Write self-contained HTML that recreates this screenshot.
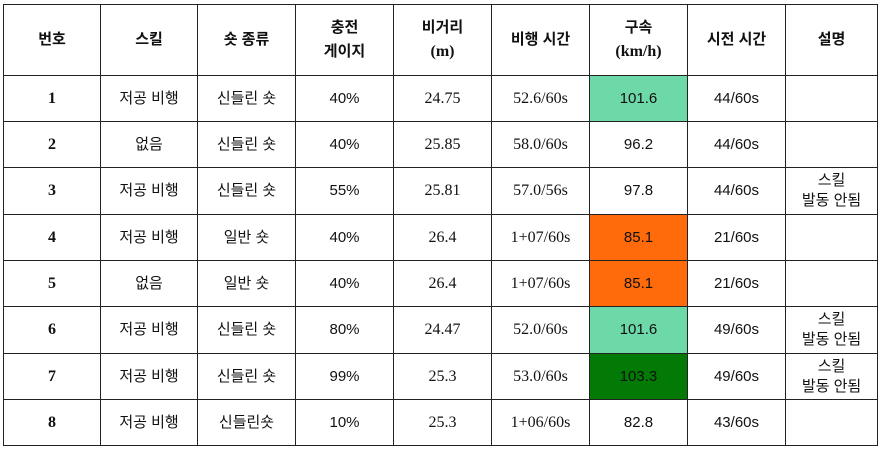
<!DOCTYPE html><html><head><meta charset="utf-8"><style>
body{margin:0;background:#fff;width:883px;height:452px;overflow:hidden}
table{position:absolute;left:3px;top:4px;border-collapse:collapse;table-layout:fixed;font-family:"Liberation Sans","Noto Sans CJK KR",sans-serif;font-size:15px;color:#111}
td{border:1px solid #222;text-align:center;vertical-align:middle;padding:0;line-height:20px;overflow:hidden}
tr.h td{font-weight:bold;height:70px;line-height:24px}
tr.r td{height:45px}
tr.t td{height:46px}
.s{font-family:"Liberation Serif","Noto Sans CJK KR",serif;font-size:16px}
.g{background:#6dd8a8}.o{background:#ff6a0a}.d{background:#037a05}
.n{font-weight:bold}
</style></head><body>
<table>
<colgroup><col style="width:97px"><col style="width:97px"><col style="width:98px"><col style="width:98px"><col style="width:98px"><col style="width:98px"><col style="width:98px"><col style="width:98px"><col style="width:92px"></colgroup>
<tr class="h"><td>번호</td><td>스킬</td><td>숏 종류</td><td>충전<br>게이지</td><td>비거리<br><span class="s">(m)</span></td><td>비행 시간</td><td>구속<br><span class="s">(km/h)</span></td><td>시전 시간</td><td>설명</td></tr>
<tr class="r"><td class="s n">1</td><td>저공 비행</td><td>신들린 숏</td><td>40%</td><td class="s">24.75</td><td class="s">52.6/60s</td><td class="g">101.6</td><td>44/60s</td><td></td></tr>
<tr class="r"><td class="s n">2</td><td>없음</td><td>신들린 숏</td><td>40%</td><td class="s">25.85</td><td class="s">58.0/60s</td><td>96.2</td><td>44/60s</td><td></td></tr>
<tr class="t"><td class="s n">3</td><td>저공 비행</td><td>신들린 숏</td><td>55%</td><td class="s">25.81</td><td class="s">57.0/56s</td><td>97.8</td><td>44/60s</td><td>스킬<br>발동 안됨</td></tr>
<tr class="r"><td class="s n">4</td><td>저공 비행</td><td>일반 숏</td><td>40%</td><td class="s">26.4</td><td class="s">1+07/60s</td><td class="o">85.1</td><td>21/60s</td><td></td></tr>
<tr class="r"><td class="s n">5</td><td>없음</td><td>일반 숏</td><td>40%</td><td class="s">26.4</td><td class="s">1+07/60s</td><td class="o">85.1</td><td>21/60s</td><td></td></tr>
<tr class="t"><td class="s n">6</td><td>저공 비행</td><td>신들린 숏</td><td>80%</td><td class="s">24.47</td><td class="s">52.0/60s</td><td class="g">101.6</td><td>49/60s</td><td>스킬<br>발동 안됨</td></tr>
<tr class="r"><td class="s n">7</td><td>저공 비행</td><td>신들린 숏</td><td>99%</td><td class="s">25.3</td><td class="s">53.0/60s</td><td class="d">103.3</td><td>49/60s</td><td>스킬<br>발동 안됨</td></tr>
<tr class="r"><td class="s n">8</td><td>저공 비행</td><td>신들린숏</td><td>10%</td><td class="s">25.3</td><td class="s">1+06/60s</td><td>82.8</td><td>43/60s</td><td></td></tr>
</table>
</body></html>
